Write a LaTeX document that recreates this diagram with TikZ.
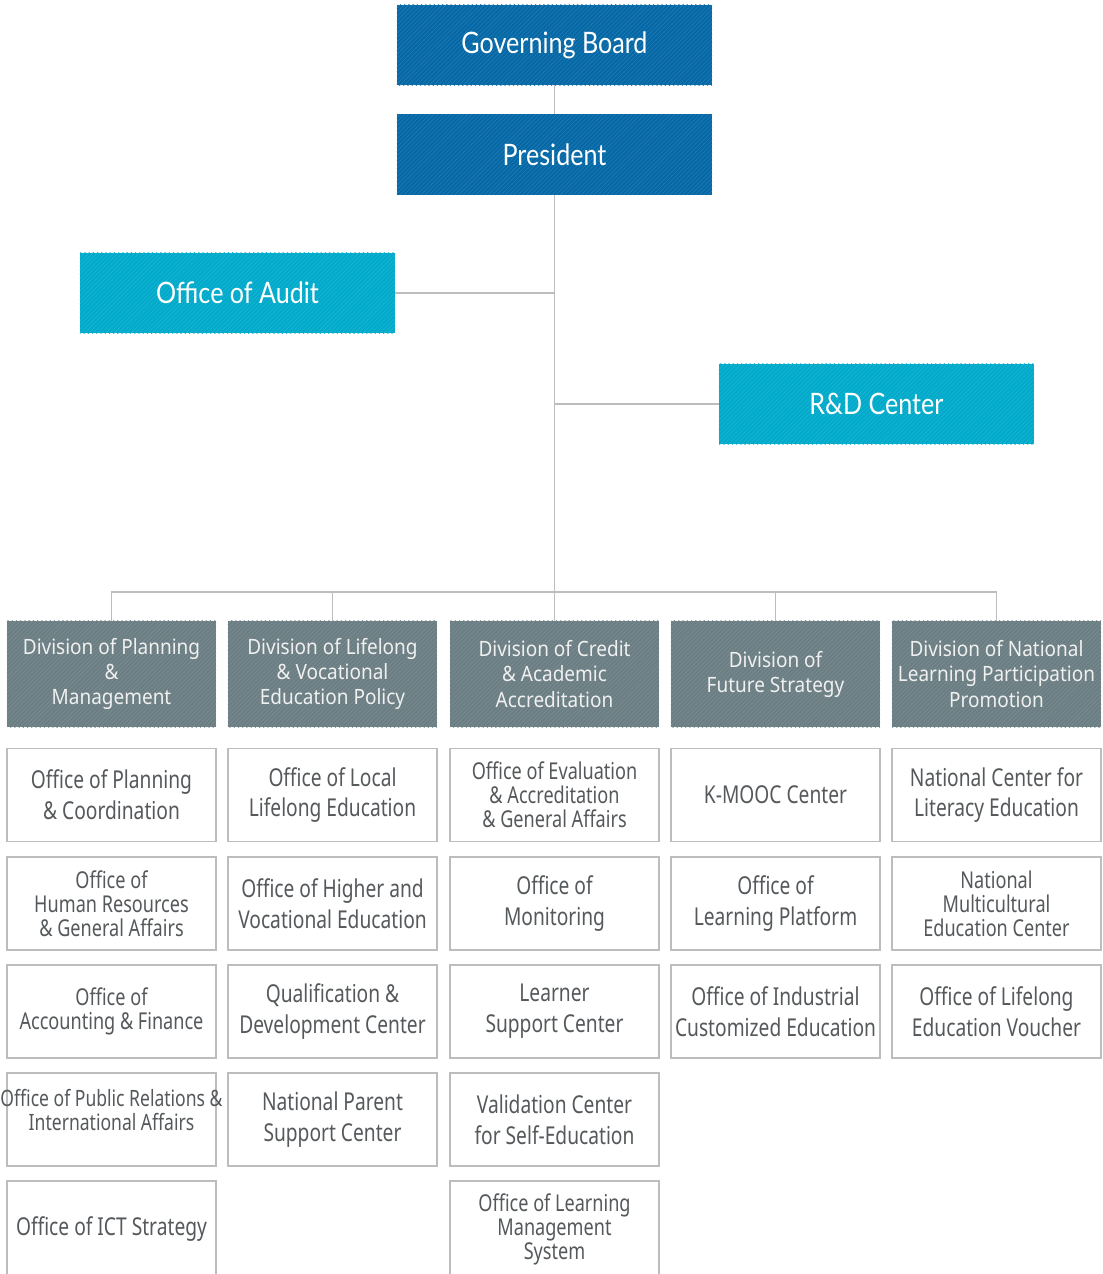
\documentclass[tikz,border=0pt]{standalone}
\usepackage{fontspec}
\setmainfont{Noto Sans}
\newfontfamily\topfont[FakeStretch=0.85]{Lato}
\newfontfamily\divfont[FakeStretch=0.9]{Noto Sans}
\newfontfamily\condfont[FakeStretch=0.78]{Noto Sans}
\usetikzlibrary{positioning,patterns}

\definecolor{boardblue}{HTML}{0568A6}
\definecolor{unitcyan}{HTML}{00AACB}
\definecolor{divgray}{HTML}{6B7E83}
\definecolor{linegray}{HTML}{BDBDBD}
\definecolor{textgray}{HTML}{55595B}

\tikzset{
  hatched/.style={preaction={fill=#1}, pattern=north east lines, pattern color=#1!88!white},
  board/.style={hatched=boardblue, text=white, minimum width=7.875cm, minimum height=2cm,
    font=\topfont\fontsize{21}{25}\selectfont},
  unit/.style={board, hatched=unitcyan},
  division/.style={hatched=divgray, text=white!94!black, align=center, inner sep=1pt,
    minimum width=5.225cm, minimum height=2.65cm, font=\divfont\fontsize{15}{17.8}\selectfont},
  sub/.style={draw=linegray, line width=1pt, fill=white, text=textgray, align=center, inner sep=1pt,
    minimum width=5.225cm, minimum height=2.33cm, font=\condfont\fontsize{17.5}{22}\selectfont},
  subthree/.style={sub, font=\condfont\fontsize{16.5}{17}\selectfont},
  lastrow/.style={minimum height=2.4cm},
  link/.style={draw=linegray, line width=1pt}
}

\begin{document}
\begin{tikzpicture}[x=0.025cm, y=-0.025cm]
    \useasboundingbox (0,0) rectangle (1103,1274);

    \node[board] (gb) at (554.5,45) {Governing Board};
    \node[board] (pres) at (554.5,154.5) {President};
    \node[unit] (audit) at (237.5,293) {Office of Audit};
    \node[unit] (rnd) at (876.5,404) {R\&D Center};

    \coordinate (bus) at (554.5,592);

    % divisions
    \node[division] (div1) at (111.5,674) {Division of Planning\\\&\\Management};
    \node[division] (div2) at (332.5,674) {Division of Lifelong\\\& Vocational\\Education Policy};
    \node[division] (div3) at (554.5,674) {Division of Credit\\\& Academic\\Accreditation};
    \node[division] (div4) at (775.5,674) {Division of\\Future Strategy};
    \node[division] (div5) at (996.5,674) {Division of National\\Learning Participation\\Promotion};

    % offices and centers
    \node[sub] (pm1) at (111.5,795) {Office of Planning\\\& Coordination};
    \node[subthree] (pm2) at (111.5,903.5) {Office of\\Human Resources\\\& General Affairs};
    \node[subthree] (pm3) at (111.5,1011.5) {Office of\\Accounting \& Finance};
    \node[subthree, font=\condfont\fontsize{16}{17}\selectfont, text depth=14pt] (pm4) at (111.5,1119.5) {\makebox[0pt]{Office of Public Relations \&}\\International Affairs};
    \node[sub, lastrow] (pm5) at (111.5,1229) {Office of ICT Strategy};

    \node[sub] (lv1) at (332.5,795) {Office of Local\\Lifelong Education};
    \node[sub] (lv2) at (332.5,903.5) {Office of Higher and\\Vocational Education};
    \node[sub] (lv3) at (332.5,1011.5) {Qualification \&\\Development Center};
    \node[sub] (lv4) at (332.5,1119.5) {National Parent\\Support Center};

    \node[subthree] (ca1) at (554.5,795) {Office of Evaluation\\\& Accreditation\\\& General Affairs};
    \node[sub] (ca2) at (554.5,903.5) {Office of\\Monitoring};
    \node[sub] (ca3) at (554.5,1011.5) {Learner\\Support Center};
    \node[sub] (ca4) at (554.5,1119.5) {Validation Center\\for Self-Education};
    \node[subthree, lastrow] (ca5) at (554.5,1229) {Office of Learning\\Management\\System};

    \node[sub] (fs1) at (775.5,795) {K-MOOC Center};
    \node[sub] (fs2) at (775.5,903.5) {Office of\\Learning Platform};
    \node[sub] (fs3) at (775.5,1011.5) {Office of Industrial\\Customized Education};

    \node[sub] (lp1) at (996.5,795) {National Center for\\Literacy Education};
    \node[subthree] (lp2) at (996.5,903.5) {National\\Multicultural\\Education Center};
    \node[sub] (lp3) at (996.5,1011.5) {Office of Lifelong\\Education Voucher};

    % connectors
    \draw[link] (gb) -- (pres);
    \draw[link] (pres.south) -- (bus);
    \draw[link] (audit.east) -- (audit.east -| pres.south);
    \draw[link] (rnd.west) -- (rnd.west -| pres.south);
    \draw[link] (div1.north) |- (bus); \draw[link] (div2.north) |- (bus);
    \draw[link] (div3.north) -- (bus);
    \draw[link] (div4.north) |- (bus); \draw[link] (div5.north) |- (bus);
\end{tikzpicture}
\end{document}
